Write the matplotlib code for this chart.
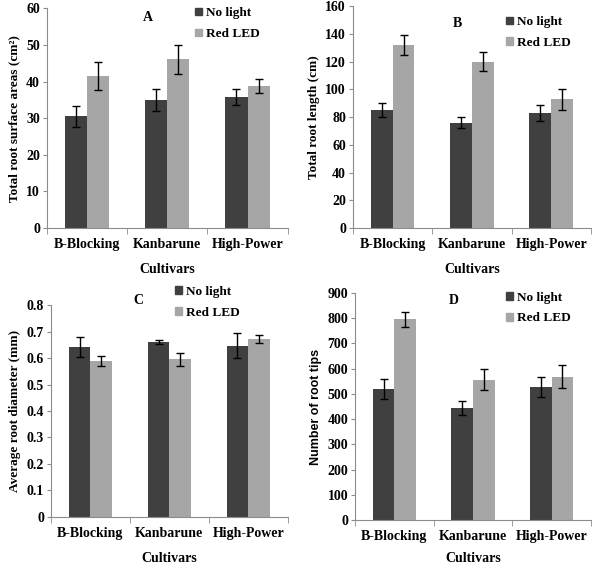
import numpy as np
import matplotlib
matplotlib.use('Agg')
import matplotlib.pyplot as plt
from matplotlib.patches import Patch

plt.rcParams['font.family'] = ['Liberation Serif', 'DejaVu Serif']
plt.rcParams['font.weight'] = 'bold'

cultivars = ['B-Blocking', 'Kanbarune', 'High-Power']
series = ['No light', 'Red LED']

# A - total root surface area
area_dark = [30.5, 35.0, 35.7]
area_dark_err = [2.8, 3.1, 2.2]
area_red = [41.6, 46.1, 38.8]
area_red_err = [3.8, 4.0, 2.0]

# B - total root length
length_dark = [85, 76, 83]
length_dark_err = [5, 4, 6]
length_red = [132, 120, 93]
length_red_err = [7, 7, 7.5]

# C - average root diameter
diam_dark = [0.643, 0.661, 0.647]
diam_dark_err = [0.038, 0.008, 0.047]
diam_red = [0.588, 0.595, 0.672]
diam_red_err = [0.02, 0.025, 0.016]

# D - number of root tips
tips_dark = [520, 443, 527]
tips_dark_err = [40, 27, 40]
tips_red = [795, 557, 568]
tips_red_err = [30, 43, 45]

dark = '#404040'
light = '#a6a6a6'
axis_col = '#8c8c8c'

fig = plt.figure(figsize=(6.06, 5.66), dpi=100)

panels = [
    dict(rect=[0.0776, 0.597, 0.397, 0.388], d=(area_dark, area_dark_err), r=(area_red, area_red_err),
         ylim=60, step=10, fmt='{:.0f}', ylabel='Total root surface areas (cm²)', letter='A',
         letter_xy=(0.42, 0.96), leg_xy=(0.615, 1.005), ylab_font=None, xpad=9),
    dict(rect=[0.5825, 0.597, 0.3925, 0.392], d=(length_dark, length_dark_err), r=(length_red, length_red_err),
         ylim=160, step=20, fmt='{:.0f}', ylabel='Total root length (cm)', letter='B',
         letter_xy=(0.44, 0.92), leg_xy=(0.645, 0.955), ylab_font=None, xpad=9),
    dict(rect=[0.084, 0.0866, 0.391, 0.3745], d=(diam_dark, diam_dark_err), r=(diam_red, diam_red_err),
         ylim=0.8, step=0.1, fmt='{:g}', ylabel='Average root diameter (mm)', letter='C',
         letter_xy=(0.37, 1.02), leg_xy=(0.525, 1.09), ylab_font=None, xpad=9),
    dict(rect=[0.586, 0.0813, 0.389, 0.401], d=(tips_dark, tips_dark_err), r=(tips_red, tips_red_err),
         ylim=900, step=100, fmt='{:.0f}', ylabel='Number of root tips', letter='D',
         letter_xy=(0.42, 0.965), leg_xy=(0.64, 1.005), ylab_font=['Liberation Sans', 'DejaVu Sans'], xpad=7),
]

x = np.arange(len(cultivars))
w = 0.275

for p in panels:
    ax = fig.add_axes(p['rect'])
    yd, ed = p['d']
    yr, er = p['r']
    ax.bar(x - w / 2, yd, w, color=dark, yerr=ed, capsize=2.6,
           error_kw=dict(elinewidth=1, capthick=1, ecolor='black'))
    ax.bar(x + w / 2, yr, w, color=light, yerr=er, capsize=2.6,
           error_kw=dict(elinewidth=1, capthick=1, ecolor='black'))
    ax.set_xlim(-0.5, 2.5)
    ax.set_ylim(0, p['ylim'])
    ticks = np.arange(0, p['ylim'] + p['step'] / 2, p['step'])
    ax.set_yticks(ticks)
    ax.set_yticklabels([p['fmt'].format(round(t, 2)) for t in ticks], fontsize=10, fontweight='bold')
    ax.set_xticks(x)
    ax.set_xticklabels(cultivars, fontsize=10, fontweight='bold')
    ax.tick_params(axis='x', length=0, pad=7)
    ax.set_xticks([-0.5, 0.5, 1.5, 2.5], minor=True)
    ax.tick_params(axis='x', which='minor', length=4, color=axis_col, direction='out')
    ax.tick_params(axis='y', length=3, color=axis_col, pad=2)
    for s in ['top', 'right']:
        ax.spines[s].set_visible(False)
    for s in ['left', 'bottom']:
        ax.spines[s].set_color(axis_col)
    ax.set_xlabel('Cultivars', fontsize=10, fontweight='bold', labelpad=p['xpad'])
    if p['ylab_font']:
        ax.set_ylabel(p['ylabel'], fontsize=9, fontweight='bold', family=p['ylab_font'], labelpad=4)
    else:
        ax.set_ylabel(p['ylabel'], fontsize=9.5, fontweight='bold', labelpad=4)
    ax.text(p['letter_xy'][0], p['letter_xy'][1], p['letter'], transform=ax.transAxes,
            ha='center', va='center', fontsize=10, fontweight='bold')
    handles = [Patch(color=dark, label=series[0]), Patch(color=light, label=series[1])]
    ax.legend(handles=handles, loc='upper left', bbox_to_anchor=p['leg_xy'], frameon=False,
              prop=dict(size=9.5, weight='bold'), handlelength=0.5, handleheight=0.5,
              handletextpad=0.3, labelspacing=0.65, borderpad=0, borderaxespad=0)

fig.savefig('out.png', dpi=100)
